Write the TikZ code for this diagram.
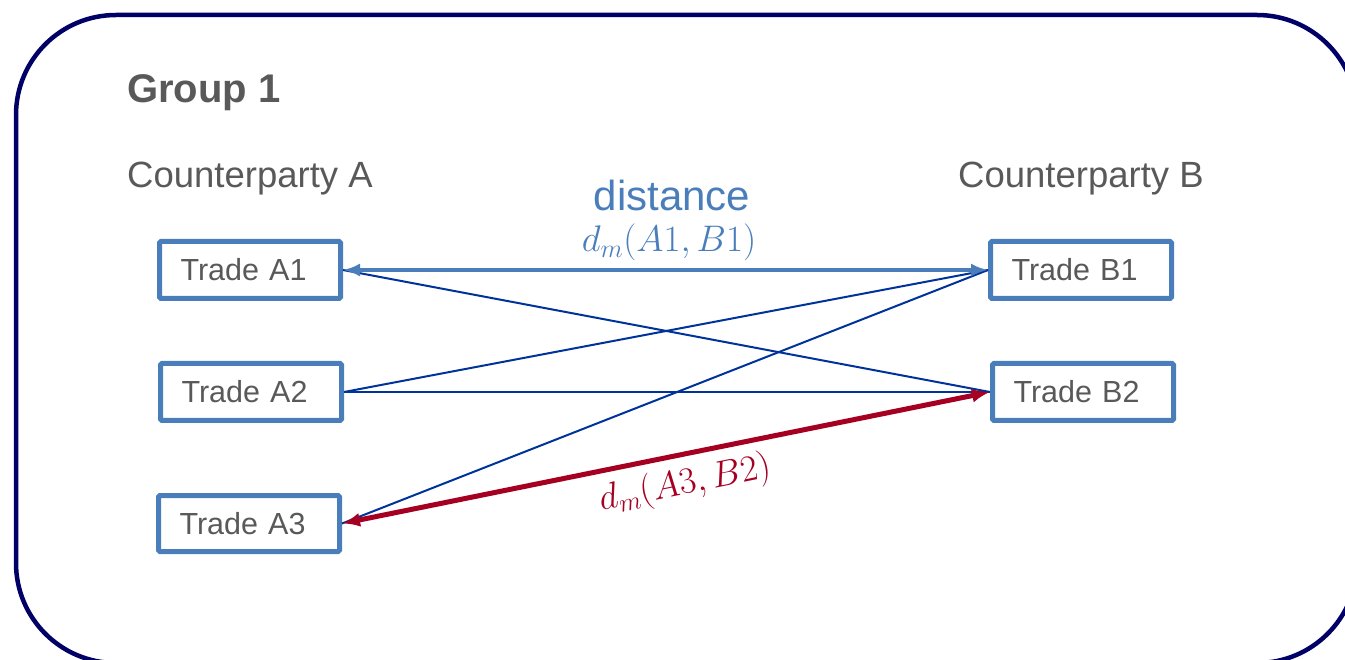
\RequirePackage{fix-cm}
\documentclass[tikz,border=0pt]{standalone}
\usepackage{fontspec}
\setmainfont{Liberation Sans}
\usetikzlibrary{arrows.meta}
\definecolor{framenavy}{RGB}{0,0,102}
\definecolor{boxblue}{RGB}{74,126,187}
\definecolor{txtgray}{RGB}{89,89,89}
\definecolor{lineblue}{RGB}{0,51,153}
\definecolor{darkred}{RGB}{165,0,33}
\begin{document}
\begin{tikzpicture}[x=1pt,y=-1pt,
  tradebox/.style={draw=boxblue, line width=5pt, rounded corners=1.5pt,
    minimum width=181pt, minimum height=57pt, text width=139pt, inner xsep=21pt,
    align=left, text=txtgray, font=\fontsize{30.5}{36}\selectfont},
  heading/.style={anchor=base west, text=txtgray, inner sep=0pt},
  bluearrow/.style={draw=boxblue, line width=4pt,
    {Latex[length=17pt,width=13pt]}-{Latex[length=17pt,width=13pt]}},
  thinline/.style={draw=lineblue, line width=2pt},
  midline/.style={draw=lineblue, line width=2.8pt},
  redarrow/.style={draw=darkred, line width=5pt,
    {Latex[length=18pt,width=14pt]}-{Latex[length=18pt,width=14pt]}},
  distlabel/.style={text=boxblue, inner sep=0pt}
]
\useasboundingbox (0,0) rectangle (1345,660);
\clip (0,0) rectangle (1345,660);
\draw[framenavy, line width=4.5pt, rounded corners=100pt] (16,15) rectangle (1357,663);

\node[heading, font=\fontsize{40}{48}\selectfont\bfseries] (g1) at (127,103) {Group 1};
\node[heading, font=\fontsize{36.5}{43}\selectfont] (cpa) at (127,188) {Counterparty A};
\node[heading, font=\fontsize{36.5}{43}\selectfont] (cpb) at (958,188) {Counterparty B};

\node[tradebox] (A1) at (250,270) {Trade A1};
\node[tradebox] (A2) at (251,392) {Trade A2};
\node[tradebox, minimum height=56pt] (A3) at (249,523.5) {Trade A3};
\node[tradebox] (B1) at (1081,270) {Trade B1};
\node[tradebox] (B2) at (1083,392) {Trade B2};

\node[distlabel, anchor=base, font=\fontsize{42}{50}\selectfont] (dist) at (672,211) {distance};
\node[distlabel, anchor=base, font=\fontsize{37}{44}\selectfont] (dab) at (669,252) {$d_m(A1,B1)$};

\draw[thinline] (A1.east) -- (B2.west);
\draw[thinline] (A2.east) -- (B1.west);
\draw[thinline] (A3.east) -- (B1.west);
\draw[midline] (A2.east) -- (B2.west);
\draw[bluearrow] (A1.east) -- (B1.west);
\draw[redarrow] (A3.east) -- node[pos=0.52, below=9pt, sloped, text=darkred, inner sep=0pt,
  font=\fontsize{37}{44}\selectfont] (dcd) {$d_m(A3,B2)$} (B2.west);
\end{tikzpicture}
\end{document}
